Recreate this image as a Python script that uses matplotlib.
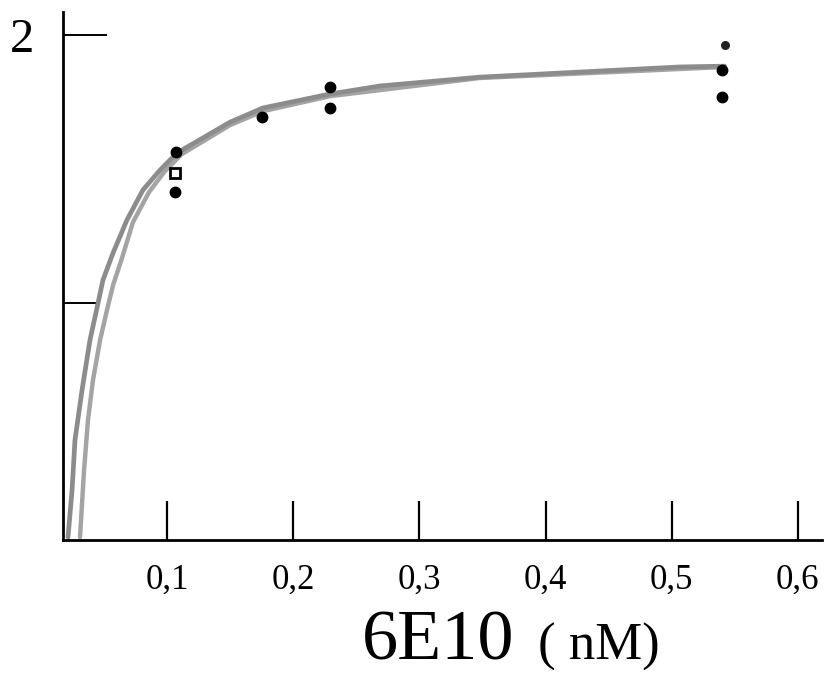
import numpy as np
import matplotlib
matplotlib.use('Agg')
import matplotlib.pyplot as plt

plt.rcParams['font.family'] = ['Liberation Serif', 'DejaVu Serif']

# fitted curves (two grey strands)
curve_a_x = [0.0214, 0.0246, 0.0269, 0.0325, 0.0388, 0.0452, 0.0491, 0.0571, 0.0681,
             0.0808, 0.0943, 0.1078, 0.1498, 0.1759, 0.2290, 0.2686, 0.3479, 0.4271,
             0.5063, 0.5420]
curve_a_y = [0.127, 0.302, 0.489, 0.675, 0.862, 1.000, 1.086, 1.187, 1.310,
             1.422, 1.496, 1.560, 1.675, 1.728, 1.780, 1.810, 1.843, 1.862,
             1.881, 1.884]
curve_b_x = [0.0309, 0.0341, 0.0372, 0.0412, 0.0468, 0.0523, 0.0571, 0.0642, 0.0729,
             0.0856, 0.0983, 0.1117, 0.1498, 0.1759, 0.2290, 0.3479, 0.5420]
curve_b_y = [0.127, 0.377, 0.563, 0.713, 0.862, 0.974, 1.067, 1.168, 1.302,
             1.414, 1.493, 1.556, 1.664, 1.716, 1.772, 1.840, 1.881]

# measured points
filled_x = [0.107, 0.106, 0.175, 0.229, 0.229, 0.5396, 0.5396]
filled_y = [1.563, 1.414, 1.694, 1.806, 1.728, 1.869, 1.769]
small_x = [0.542]
small_y = [1.963]
open_x = [0.106]
open_y = [1.485]

xticks = [0.1, 0.2, 0.3, 0.4, 0.5, 0.6]
xticklabels = ['0,1', '0,2', '0,3', '0,4', '0,5', '0,6']

fig = plt.figure(figsize=(8.31, 6.76), dpi=100)
ax = fig.add_axes([0.0758, 0.2012, 0.913, 0.781])

ax.plot(curve_b_x, curve_b_y, color='#a4a4a4', lw=3.2, solid_capstyle='round',
        solid_joinstyle='round', zorder=2)
ax.plot(curve_a_x, curve_a_y, color='#8c8c8c', lw=3.4, solid_capstyle='round',
        solid_joinstyle='round', zorder=2)

ax.plot(filled_x, filled_y, 'o', color='black', ms=7.5, zorder=3)
ax.plot(small_x, small_y, 'o', color='#222222', ms=5.5, zorder=3)
ax.plot(open_x, open_y, 's', mfc='white', mec='black', mew=2, ms=7, zorder=4)

ax.set_xlim(0.0174, 0.619)
ax.set_ylim(0.116, 2.086)

for s in ['top', 'right']:
    ax.spines[s].set_visible(False)
for s in ['left', 'bottom']:
    ax.spines[s].set_linewidth(2)

ax.set_xticks(xticks)
ax.set_xticklabels(xticklabels)
ax.tick_params(axis='x', direction='in', length=28, width=1.6, pad=17, labelsize=25)

ax.set_yticks([2])
ax.set_yticklabels(['2'])
ax.set_yticks([1], minor=True)
ax.tick_params(axis='y', which='major', direction='in', length=32, width=1.4, pad=21, labelsize=35)
ax.tick_params(axis='y', which='minor', direction='in', length=25, width=1.4)

fig.text(362 / 831, 1 - 660 / 676, '6E10', fontsize=52, ha='left', va='baseline')
fig.text(538 / 831, 1 - 660 / 676, '( nM)', fontsize=38, ha='left', va='baseline')

plt.savefig('out.png', dpi=100)
